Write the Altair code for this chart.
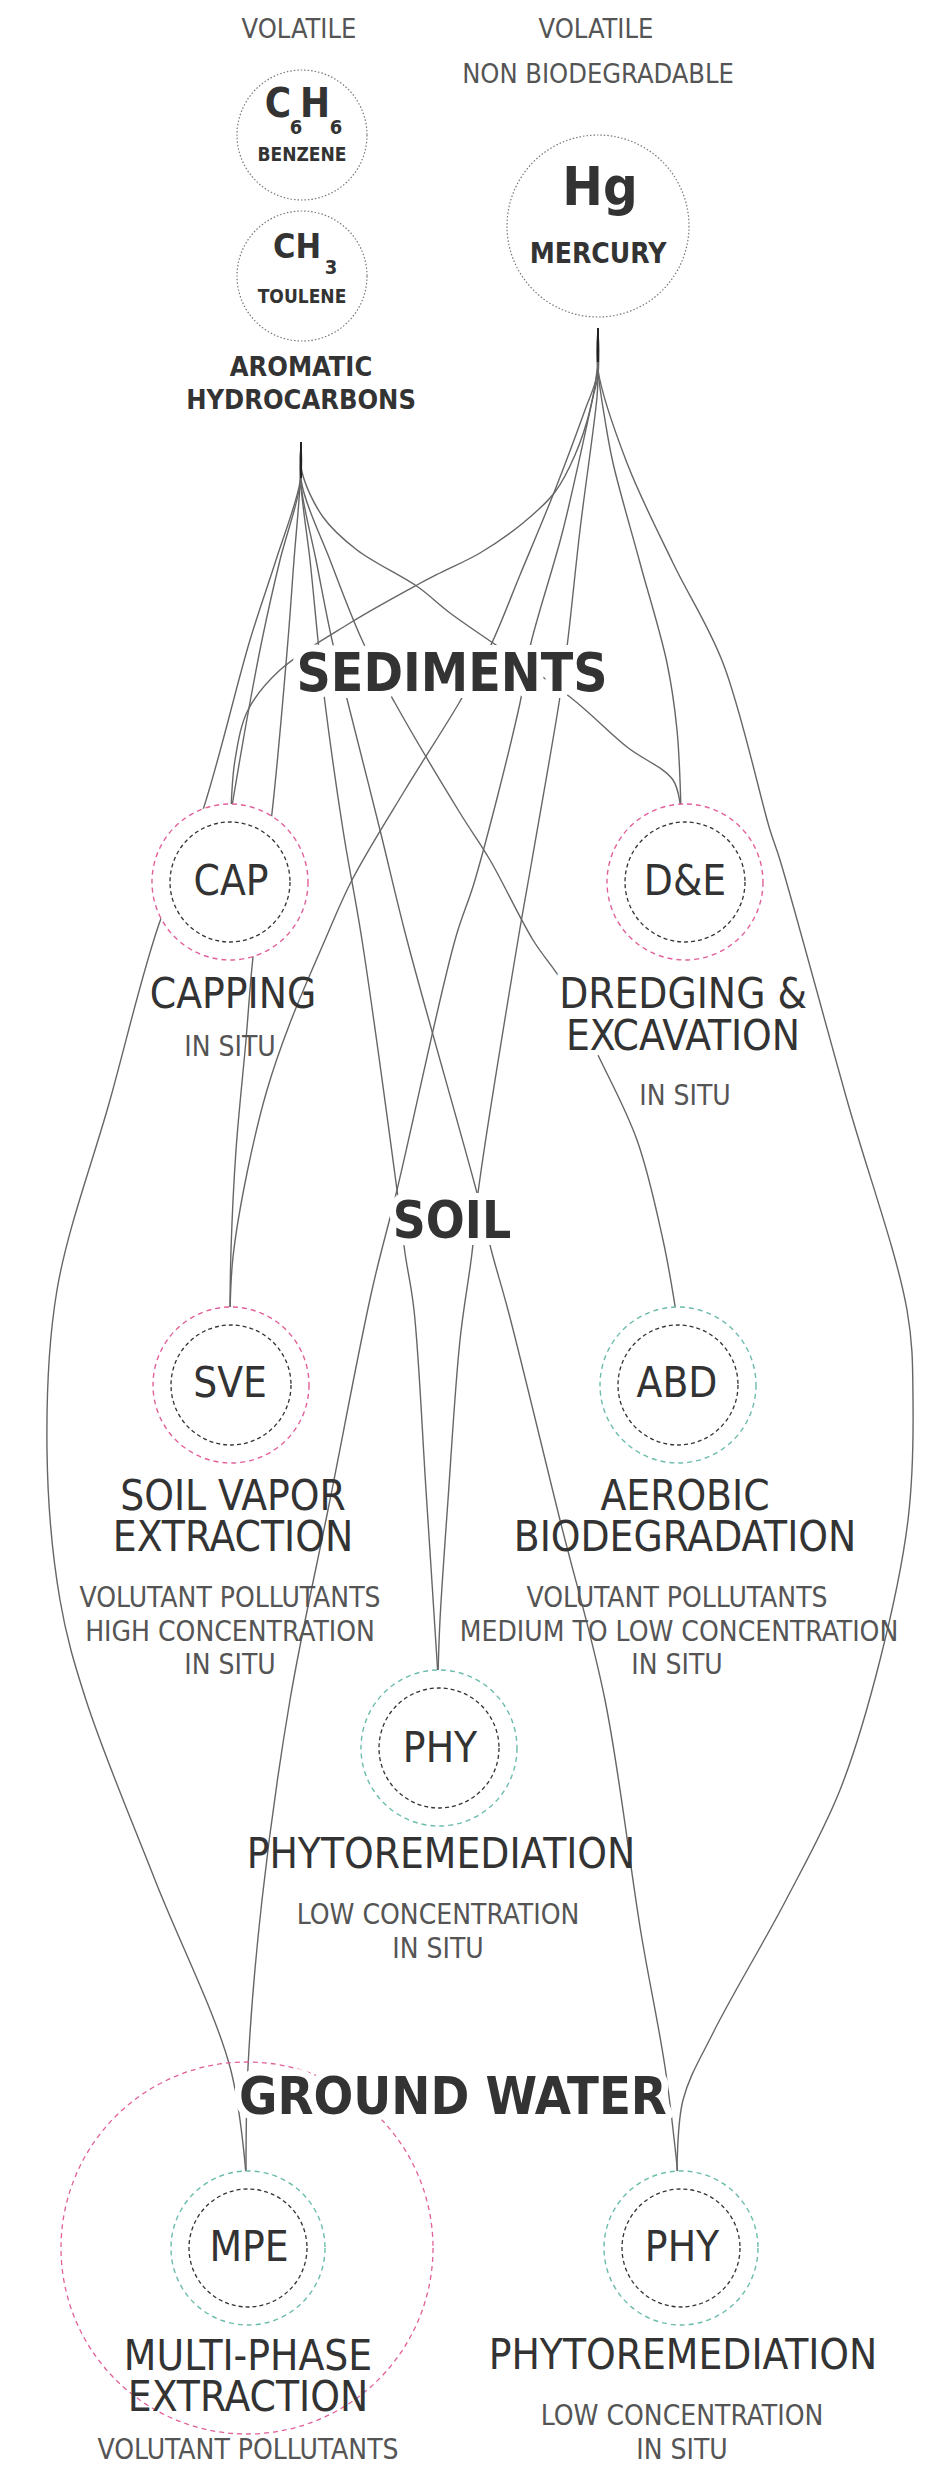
import altair as alt
import pandas as pd

W, H = 927, 2458
X0, Y0 = 8, 8
FONT = "DejaVu Sans Condensed, DejaVu Sans, sans-serif"

# ---------------- connection waypoints (page pixels) ----------
A1 = [(301,445),(300,482),(276,560),(250,640),(202,813),(157,930),(110,1100),(57,1290),
      (47,1450),(60,1600),(86,1700),(155,1880),(230,2067),(246,2175)]
A2 = [(301,445),(300,485),(280,560),(262,640),(245,730),(231,812)]
A3 = [(301,445),(300,485),(294,560),(288,640),(272,813),(253,957),(246,1040),(236,1150),
      (231,1250),(230,1312)]
A4 = [(301,445),(301,485),(310,560),(318,640),(325,703),(343,830),(362,940),(397,1190),
      (405,1253),(414,1310),(426,1490),(438,1676)]
A5 = [(301,445),(301,485),(316,560),(332,640),(348,703),(380,830),(407,940),(477,1193),
      (492,1253),(508,1310),(560,1520),(605,1700),(641,1933),(665,2067),(678,2175)]
A6 = [(301,445),(302,485),(330,560),(362,640),(395,703),(460,813),(490,860),(533,940),
      (563,983),(597,1053),(637,1140),(663,1240),(676,1312)]
A7 = [(301,445),(302,472),(323,517),(357,550),(418,587),(450,613),(570,697),(627,747),
      (673,780),(681,812)]
M1 = [(598,330),(598,360),(590,410),(575,455),(555,492),(523,523),(480,553),(440,573),
      (417,585),(350,623),(280,670),(248,710),(235,760),(231,812)]
M2 = [(598,330),(597,375),(585,410),(555,490),(520,575),(490,647),(459,703),(405,790),
      (352,880),(325,940),(290,1023),(267,1090),(247,1173),(233,1257),(230,1312)]
M3 = [(598,330),(598,375),(593,397),(563,530),(530,647),(520,703),(475,880),(455,940),
      (397,1190),(372,1290),(330,1500),(290,1700),(262,1900),(248,2067),(246,2175)]
M4 = [(598,330),(598,375),(597,397),(580,530),(567,647),(559,703),(532,860),(518,940),
      (478,1193),(472,1253),(460,1340),(448,1500),(440,1620),(438,1676)]
M5 = [(598,330),(598,370),(605,420),(613,463),(640,563),(667,663),(677,730),(681,812)]
M6 = [(598,330),(598,370),(627,463),(673,563),(723,663),(770,830),(780,860),(847,1100),
      (907,1310),(913,1400),(908,1520),(880,1660),(840,1790),(786,1900),(713,2033),
      (683,2100),(677,2175)]
connections = {"A1": A1, "A2": A2, "A3": A3, "A4": A4, "A5": A5, "A6": A6, "A7": A7,
               "M1": M1, "M2": M2, "M3": M3, "M4": M4, "M5": M5, "M6": M6}

# source stubs
stub_x = [301, 598]
stub_y = [442, 328]
stub_y2 = [478, 362]

# ---------------- nodes ----------------
node_names = ["CAP", "D&E", "SVE", "ABD", "PHY1", "MPE", "PHY2"]
node_x = [230, 685, 231, 678, 439, 248, 681]
node_y = [882, 882, 1385, 1385, 1748, 2248, 2248]
node_r_out = [78, 78, 78, 78, 78, 77, 77]
node_r_in = [60, 60, 60, 60, 60, 59, 59]
PINK, TEAL = "#e2609a", "#6cbcae"
node_ring = [PINK, PINK, PINK, TEAL, TEAL, TEAL, TEAL]

big_ring_x, big_ring_y, big_ring_r = [247], [2248], [186]

chem_names = ["BENZENE", "TOULENE", "MERCURY"]
chem_x = [302, 302, 598]
chem_y = [135, 276, 226]
chem_r = [65, 65, 91]

# ---------------- texts ----------------
title_text = ["SEDIMENTS", "SOIL", "GROUND WATER"]
title_x = [452, 452, 453]
title_y = [675, 1223, 2098]
title_size = [53, 51, 52]

code_text = ["CAP", "D&E", "SVE", "ABD", "PHY", "MPE", "PHY"]
code_x = [231, 685, 230, 677, 440, 249, 682]
code_y = [882, 882, 1384, 1384, 1749, 2248, 2248]

method_text = ["CAPPING", "SOIL VAPOR", "EXTRACTION", "AEROBIC", "BIODEGRADATION",
               "PHYTOREMEDIATION", "MULTI-PHASE", "EXTRACTION", "PHYTOREMEDIATION"]
method_x = [233, 233, 233, 685, 685, 441, 248, 248, 683]
method_y = [995, 1497, 1538, 1497, 1538, 1855, 2357, 2398, 2356]

halo_method_text = ["DREDGING &", "EXCAVATION"]
halo_method_x = [683, 683]
halo_method_y = [995, 1037]

note_text = ["VOLATILE", "VOLATILE", "NON BIODEGRADABLE", "IN SITU", "IN SITU",
             "VOLUTANT POLLUTANTS", "HIGH CONCENTRATION", "IN SITU",
             "VOLUTANT POLLUTANTS", "MEDIUM TO LOW CONCENTRATION", "IN SITU",
             "LOW CONCENTRATION", "IN SITU", "VOLUTANT POLLUTANTS",
             "LOW CONCENTRATION", "IN SITU"]
note_x = [299, 596, 598, 230, 685, 230, 230, 230, 677, 679, 677, 438, 438, 248, 682, 682]
note_y = [30, 30, 75, 1048, 1097, 1599, 1633, 1666, 1599, 1633, 1666, 1916, 1950, 2451,
          2417, 2451]
note_size = [27, 27, 27, 28, 28, 28, 28, 28, 28, 28, 28, 28, 28, 28, 28, 28]

chem_text = ["C", "H", "6", "6", "BENZENE", "CH", "3", "TOULENE", "Hg", "MERCURY",
             "AROMATIC", "HYDROCARBONS"]
chem_tx = [278, 315, 296, 336, 302, 297, 331, 302, 600, 598, 301, 301]
chem_ty = [105, 105, 128, 128, 155, 248, 268, 297, 189, 255, 368, 401]
chem_ts = [40, 40, 20, 20, 19, 34, 20, 19, 54, 28, 27, 27]

# ---------------- build tables ----------------
rows = []
for name, pts in connections.items():
    for i, (px, py) in enumerate(pts):
        rows.append({"line": name, "seq": i, "x": px, "y": py})
lines_df = pd.DataFrame(rows)
stub_df = pd.DataFrame({"x": stub_x, "y": stub_y, "y2": stub_y2})
nodes_df = pd.DataFrame({"name": node_names, "x": node_x, "y": node_y,
                         "s_out": [(2 * r) ** 2 for r in node_r_out],
                         "s_in": [(2 * r) ** 2 for r in node_r_in],
                         "ring": node_ring})
big_df = pd.DataFrame({"x": big_ring_x, "y": big_ring_y,
                       "s": [(2 * r) ** 2 for r in big_ring_r]})
chem_df = pd.DataFrame({"name": chem_names, "x": chem_x, "y": chem_y,
                        "s": [(2 * r) ** 2 for r in chem_r]})
title_df = pd.DataFrame({"t": title_text, "x": title_x, "y": title_y, "fs": title_size})
code_df = pd.DataFrame({"t": code_text, "x": code_x, "y": code_y})
method_df = pd.DataFrame({"t": method_text, "x": method_x, "y": method_y})
hmethod_df = pd.DataFrame({"t": halo_method_text, "x": halo_method_x, "y": halo_method_y})
note_df = pd.DataFrame({"t": note_text, "x": note_x, "y": note_y, "fs": note_size})
chemt_df = pd.DataFrame({"t": chem_text, "x": chem_tx, "y": chem_ty, "fs": chem_ts})

X = alt.X("x:Q", scale=alt.Scale(domain=[X0, X0 + W], nice=False, zero=False), axis=None)
Y = alt.Y("y:Q", scale=alt.Scale(domain=[Y0, Y0 + H], nice=False, zero=False, reverse=True),
          axis=None)

lines = alt.Chart(lines_df).mark_line(
    interpolate="catmull-rom", color="#666666", strokeWidth=1.4
).encode(x=X, y=Y, detail="line:N", order="seq:Q")

stubs = alt.Chart(stub_df).mark_rule(color="#222", strokeWidth=2).encode(
    x=X, y=Y, y2="y2:Q")

big_ring = alt.Chart(big_df).mark_point(
    shape="circle", filled=False, color=PINK, strokeWidth=1.3, strokeDash=[5, 4], opacity=1
).encode(x=X, y=Y, size=alt.Size("s:Q", scale=None))

outer = alt.Chart(nodes_df).mark_point(
    shape="circle", fill="white", fillOpacity=1, strokeWidth=1.4, strokeDash=[5, 4], opacity=1
).encode(x=X, y=Y, size=alt.Size("s_out:Q", scale=None),
         stroke=alt.Stroke("ring:N", scale=None))

inner = alt.Chart(nodes_df).mark_point(
    shape="circle", filled=False, color="#333333", strokeWidth=1.3, strokeDash=[4, 3], opacity=1
).encode(x=X, y=Y, size=alt.Size("s_in:Q", scale=None))

chem_rings = alt.Chart(chem_df).mark_point(
    shape="circle", filled=False, color="#777777", strokeWidth=1.2, strokeDash=[1.5, 2],
    opacity=1
).encode(x=X, y=Y, size=alt.Size("s:Q", scale=None))

title_halo = alt.Chart(title_df).mark_text(
    font=FONT, fontWeight="bold", baseline="middle", align="center", color="white",
    stroke="white", strokeWidth=14, strokeJoin="round"
).encode(x=X, y=Y, text="t:N", size=alt.Size("fs:Q", scale=None))
titles = alt.Chart(title_df).mark_text(
    font=FONT, fontWeight="bold", baseline="middle", align="center", color="#333333"
).encode(x=X, y=Y, text="t:N", size=alt.Size("fs:Q", scale=None))

codes = alt.Chart(code_df).mark_text(
    font=FONT, fontSize=42, baseline="middle", align="center", color="#333333"
).encode(x=X, y=Y, text="t:N")

methods = alt.Chart(method_df).mark_text(
    font=FONT, fontSize=42, baseline="middle", align="center", color="#333333"
).encode(x=X, y=Y, text="t:N")

hmethod_halo = alt.Chart(hmethod_df).mark_text(
    font=FONT, fontSize=42, baseline="middle", align="center", color="white",
    stroke="white", strokeWidth=12, strokeJoin="round"
).encode(x=X, y=Y, text="t:N")
hmethods = alt.Chart(hmethod_df).mark_text(
    font=FONT, fontSize=42, baseline="middle", align="center", color="#333333"
).encode(x=X, y=Y, text="t:N")

notes = alt.Chart(note_df).mark_text(
    font=FONT, baseline="middle", align="center", color="#555555"
).encode(x=X, y=Y, text="t:N", size=alt.Size("fs:Q", scale=None))

chem_texts = alt.Chart(chemt_df).mark_text(
    font=FONT, fontWeight="bold", baseline="middle", align="center", color="#333333"
).encode(x=X, y=Y, text="t:N", size=alt.Size("fs:Q", scale=None))

chart = alt.layer(
    lines, stubs, big_ring, outer, inner, chem_rings,
    title_halo, titles, codes, methods, hmethod_halo, hmethods, notes, chem_texts
).properties(
    width=W, height=H, padding=0, autosize=alt.AutoSizeParams(type="none"),
    background="white"
).configure_view(stroke=None)

chart.save("out.html", embed_options={"renderer": "svg", "actions": False})
